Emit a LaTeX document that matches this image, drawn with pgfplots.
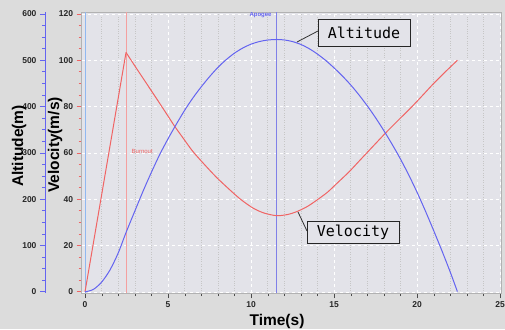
\documentclass[border=0pt]{standalone}
\usepackage{pgfplots}
\pgfplotsset{compat=1.18}
\usepackage{fontspec}
\setmainfont{Liberation Sans}
\setsansfont{Liberation Sans}
\newfontfamily\boxfont{DejaVu Sans Mono}
\definecolor{bgout}{HTML}{DCDCDC}
\definecolor{bgplot}{HTML}{E3E3E9}
\definecolor{vred}{HTML}{F06464}
\definecolor{ablue}{HTML}{6464F0}
\definecolor{lred}{HTML}{F4A0A0}
\definecolor{lblue}{HTML}{90B8F0}
\definecolor{apblue}{HTML}{8080E8}

\pgfplotstableread{
t v
0 0
2.47 103.4
}\velup
\pgfplotstableread{
t v
2.47 103.4
3.0 97.6
3.5 92.2
4.0 86.8
4.5 81.4
5.0 75.9
5.42 71.3
6.0 65.5
6.5 60.6
7.13 55.5
7.9 49.6
8.73 44.0
9.4 39.8
10.14 36.1
10.8 34.0
11.55 32.9
12.2 33.4
12.77 34.7
13.4 36.9
13.98 39.7
14.6 43.0
15.18 46.9
15.9 51.8
16.58 57.0
17.3 62.5
18.09 68.5
18.85 74.0
19.6 79.3
20.3 84.6
21.0 90.0
21.7 95.0
22.43 100.0
}\veldown
\pgfplotstableread{
t h
0 0
0.5 5.2
1.0 21
1.5 47
2.0 84
2.47 128
3.0 174.4
3.5 217.7
4.0 258.3
4.5 296.5
5.0 330.5
5.5 362
6.0 392
6.5 418.8
7.0 442.7
7.5 464.6
8.0 484.5
8.5 501.3
9.0 515.4
9.5 526.5
10.0 534.9
10.5 540.5
11.0 543.8
11.55 545
12.0 544
12.5 540.5
13.0 534.3
13.5 525.2
14.0 513.5
14.5 499.7
15.0 483.7
15.5 466.2
16.0 447
16.5 425.4
17.0 401.8
17.5 376.1
18.0 348.2
18.5 318.5
19.0 286.9
19.5 252.4
20.0 215.1
20.5 174.9
21.0 132.4
21.5 88.6
22.0 42.7
22.43 0.5
}\alt

\begin{document}
\begin{tikzpicture}[x=1pt,y=1pt]
\useasboundingbox (0,0) rectangle (505,329);
\fill[bgout] (0,0) rectangle (505,329);
\begin{axis}[
  at={(81.7pt,36pt)}, anchor=south west, scale only axis,
  width=420pt, height=280.6pt,
  xmin=-0.2, xmax=25.1, ymin=-0.5, ymax=120.7,
  axis background/.style={fill=bgplot},
  axis line style={gray!60, line width=0.8pt},
  xtick={0,5,...,25}, minor x tick num=4,
  ytick={0,20,...,120}, minor y tick num=3,
  xtick pos=bottom, ytick pos=left,
  tick align=outside,
  x tick style={black!70}, y tick style={vred, line width=0.8pt},
  major tick length=5pt, minor tick length=3pt,
  ticklabel style={font=\fontsize{8.5}{9}\selectfont\bfseries, text=black!85},
  /pgf/number format/assume math mode=true,
  xmajorgrids, xminorgrids, ymajorgrids,
  major grid style={white, dashed, line width=0.6pt},
  minor grid style={gray!45, dotted, line width=0.6pt},
  clip=true,
]
\addplot[lblue, line width=0.8pt] coordinates {(0.05,-0.5) (0.05,120.7)};
\addplot[lred, line width=0.8pt] coordinates {(2.47,-0.5) (2.47,120.7)};
\addplot[apblue, line width=0.8pt] coordinates {(11.55,-0.5) (11.55,120.7)};
\addplot[vred, line width=1pt] table[x=t,y=v] {\velup};
\addplot[vred, line width=1pt, smooth] table[x=t,y=v] {\veldown};
\node[font=\fontsize{6}{7}\selectfont, text=vred, anchor=west] at (axis cs:2.6,60.5) {Burnout};
\node[font=\fontsize{6}{7}\selectfont\bfseries, text=ablue, anchor=east] at (axis cs:11.45,119.5) {Apogee};
\end{axis}
\begin{axis}[
  at={(81.7pt,36pt)}, anchor=south west, scale only axis,
  width=420pt, height=280.6pt,
  xmin=-0.2, xmax=25.1, ymin=-2.5, ymax=603.5,
  axis x line=none, axis y line*=left,
  axis y line shift=36.7pt,
  ytick={0,100,...,600}, minor y tick num=3,
  tick align=outside,
  y axis line style={ablue, line width=0.8pt},
  y tick style={ablue, line width=0.8pt},
  major tick length=5pt, minor tick length=3pt,
  ticklabel style={font=\fontsize{8.5}{9}\selectfont\bfseries, text=black!85},
  /pgf/number format/assume math mode=true,
]
\addplot[ablue, line width=1pt, smooth] table[x=t,y=h] {\alt};
\end{axis}
\node[font=\fontsize{15.5}{16}\selectfont\bfseries] at (277,8) {Time(s)};
\node[font=\fontsize{15.5}{16}\selectfont\bfseries, rotate=90] at (19,183) {Altitude(m)};
\node[font=\fontsize{15.5}{16}\selectfont\bfseries, rotate=90] at (55,184) {Velocity(m/s)};
% callouts
\draw[black!80, line width=0.8pt] (297,287) -- (318,298);
\node[draw=black!85, line width=0.9pt, fill=bgplot, minimum width=92pt, minimum height=27pt, inner sep=0pt, font=\boxfont\fontsize{15}{16}\selectfont] at (364,296.5) {Altitude};
\draw[black!80, line width=0.8pt] (298,117) -- (307,98);
\node[draw=black!85, line width=0.9pt, fill=bgplot, minimum width=92pt, minimum height=22pt, inner sep=0pt, font=\boxfont\fontsize{15}{16}\selectfont] at (353,97) {Velocity};
\end{tikzpicture}
\end{document}
